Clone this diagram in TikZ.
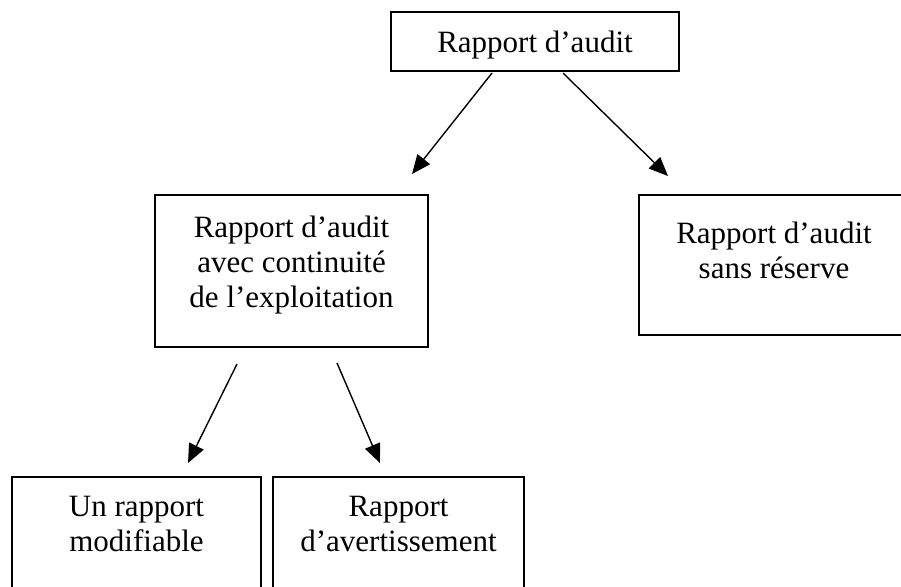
\documentclass[tikz,border=0pt]{standalone}
\usepackage{fontspec}
\setmainfont{Liberation Serif}
\usepackage{tikz}
\usetikzlibrary{arrows.meta,calc}
\tikzset{auditbox/.style={draw=black,line width=1pt,inner sep=0pt},auditlabel/.style={anchor=north,inner sep=0pt,align=center,font=\fontsize{15.5}{17.5}\selectfont},auditarrow/.style={draw=black,line width=.7pt,-{Triangle[length=9.5pt,width=8pt]}}}

\begin{document}
\begin{tikzpicture}[x=.5pt,y=-.5pt]
\useasboundingbox (0,0) rectangle (901,586);
\clip (0,0) rectangle (901,586);
\node[auditbox,minimum width=144pt,minimum height=29.5pt] (top) at (535,41.5) {};
\node[auditbox,minimum width=136.5pt,minimum height=76pt] (mid) at (291.5,271) {};
\node[auditbox,minimum width=135pt,minimum height=70pt] (rsv) at (774,265) {};
\node[auditbox,minimum width=124.5pt,minimum height=71.5pt] (modif) at (136.5,548.5) {};
\node[auditbox,minimum width=125.5pt,minimum height=71.5pt] (avert) at (398.5,548.5) {};
\node[auditlabel] (topT) at ($(top.north)+(0,20)$) {Rapport d’audit};
\node[auditlabel] (midT) at ($(mid.north)+(0,22)$) {Rapport d’audit\\avec continuité\\de l’exploitation};
\node[auditlabel] (rsvT) at ($(rsv.north)+(0,28)$) {Rapport d’audit\\sans réserve};
\node[auditlabel] (modifT) at ($(modif.north)+(0,20)$) {Un rapport\\modifiable};
\node[auditlabel] (avertT) at ($(avert.north)+(0,20)$) {Rapport\\d’avertissement};
\draw[auditarrow] ($(top.south)+(-43,1)$) -- ($(mid.north)+(120.5,-20)$);
\draw[auditarrow] ($(top.south)+(28,1)$) -- ($(rsv.north)+(-106,-18)$);
\draw[auditarrow] ($(mid.south)+(-54.5,16)$) -- ($(modif.north)+(51.5,-13)$);
\draw[auditarrow] ($(mid.south)+(45.5,15)$) -- ($(avert.north)+(-18.5,-13)$);
\end{tikzpicture}
\end{document}
